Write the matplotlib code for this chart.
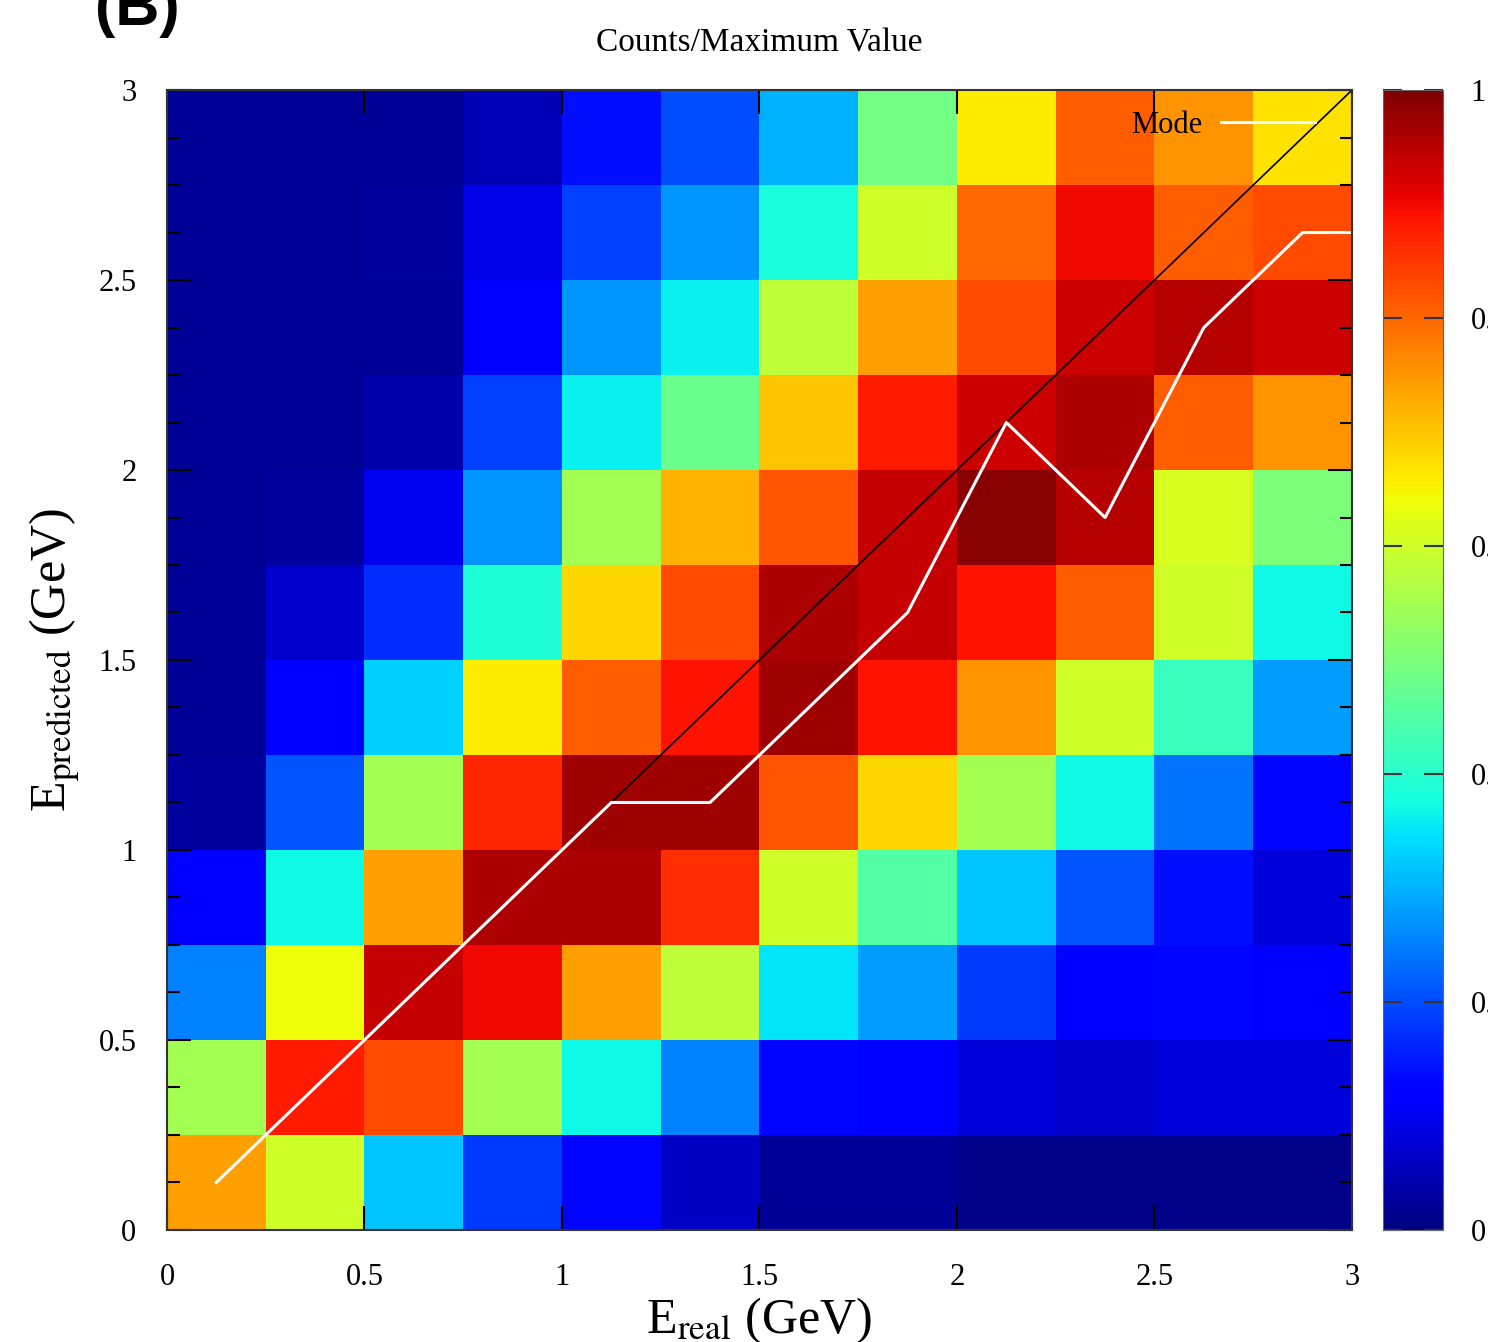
#Heatmap of predicted vs real energy, normalised counts, with the mode line
import matplotlib.pyplot as plt
import numpy as np
from matplotlib.ticker import MultipleLocator

#Bin edges in GeV (12 bins of 0.25 on each axis)
bin_edges = [0, 0.25, 0.5, 0.75, 1.0, 1.25, 1.5, 1.75, 2.0, 2.25, 2.5, 2.75, 3.0]

#Counts/Maximum Value, one list per E_predicted bin (bottom to top), columns are E_real bins
row_000_025 = [0.74, 0.60, 0.32, 0.18, 0.13, 0.06, 0.02, 0.02, 0.01, 0.01, 0.01, 0.01]
row_025_050 = [0.55, 0.88, 0.83, 0.55, 0.37, 0.25, 0.13, 0.12, 0.08, 0.07, 0.08, 0.08]
row_050_075 = [0.25, 0.64, 0.94, 0.90, 0.74, 0.58, 0.35, 0.28, 0.18, 0.11, 0.13, 0.12]
row_075_100 = [0.12, 0.37, 0.74, 0.96, 0.96, 0.86, 0.60, 0.45, 0.32, 0.21, 0.14, 0.08]
row_100_125 = [0.03, 0.21, 0.55, 0.87, 0.97, 0.97, 0.82, 0.68, 0.55, 0.37, 0.24, 0.13]
row_125_150 = [0.02, 0.11, 0.33, 0.66, 0.81, 0.89, 0.97, 0.89, 0.75, 0.60, 0.42, 0.28]
row_150_175 = [0.02, 0.07, 0.17, 0.39, 0.68, 0.83, 0.96, 0.94, 0.89, 0.81, 0.60, 0.37]
row_175_200 = [0.02, 0.03, 0.10, 0.27, 0.55, 0.72, 0.82, 0.94, 0.99, 0.95, 0.61, 0.50]
row_200_225 = [0.02, 0.02, 0.04, 0.19, 0.36, 0.48, 0.70, 0.88, 0.93, 0.96, 0.81, 0.75]
row_225_250 = [0.02, 0.02, 0.02, 0.12, 0.27, 0.36, 0.58, 0.74, 0.83, 0.93, 0.95, 0.93]
row_250_275 = [0.02, 0.02, 0.03, 0.09, 0.19, 0.27, 0.38, 0.60, 0.80, 0.90, 0.81, 0.83]
row_275_300 = [0.02, 0.02, 0.02, 0.05, 0.14, 0.20, 0.30, 0.49, 0.66, 0.81, 0.75, 0.67]

#Mode of E_predicted for each E_real bin centre
mode_x = [0.125, 0.375, 0.625, 0.875, 1.125, 1.375, 1.625, 1.875, 2.125, 2.375, 2.625, 2.875, 3.0]
mode_y = [0.125, 0.375, 0.625, 0.875, 1.125, 1.125, 1.375, 1.625, 2.125, 1.875, 2.375, 2.625, 2.625]

#Colour bar ticks
cbar_ticks = [0, 0.2, 0.4, 0.6, 0.8, 1.0]

counts = np.array([row_000_025, row_025_050, row_050_075, row_075_100,
                   row_100_125, row_125_150, row_150_175, row_175_200,
                   row_200_225, row_225_250, row_250_275, row_275_300])

plt.rcParams['font.family'] = ['Liberation Serif', 'DejaVu Serif']
plt.rcParams['mathtext.fontset'] = 'stix'

fig = plt.figure(figsize=(14.88, 13.42), dpi=100)
ax = fig.add_axes([0.1122, 0.0835, 0.7964, 0.8494])
cax = fig.add_axes([0.9294, 0.0835, 0.0403, 0.8494])

mesh = ax.pcolormesh(bin_edges, bin_edges, counts, cmap='jet', vmin=0, vmax=1)

#Diagonal E_predicted = E_real (from the first bin centre) and the mode line
ax.plot([mode_x[0], bin_edges[-1]], [mode_x[0], bin_edges[-1]], color='black', lw=1.2)
ax.plot(mode_x, mode_y, color='white', lw=2.2, label='Mode')

ax.set_xlim(0, 3)
ax.set_ylim(0, 3)
ax.xaxis.set_major_locator(MultipleLocator(0.5))
ax.yaxis.set_major_locator(MultipleLocator(0.5))
ax.yaxis.set_minor_locator(MultipleLocator(0.125))
ax.xaxis.set_major_formatter(plt.FuncFormatter(lambda v, p: f'{v:g}'))
ax.yaxis.set_major_formatter(plt.FuncFormatter(lambda v, p: f'{v:g}'))
ax.tick_params(which='both', direction='in', top=True, right=True, labelsize=22, width=1.5)
ax.tick_params(which='major', length=17, pad=24)
ax.tick_params(which='minor', length=9)
ax.tick_params(axis='y', pad=22)
for s in ax.spines.values():
    s.set_linewidth(1.5)
    s.set_color('#333333')

ax.set_title('Counts/Maximum Value', fontsize=24, pad=28)
ax.set_xlabel(r'E$_{\mathrm{real}}$ (GeV)', fontsize=36, labelpad=2)
ax.set_ylabel(r'E$_{\mathrm{predicted}}$ (GeV)', fontsize=36, labelpad=12)

ax.legend(loc='center right', bbox_to_anchor=(0.969, 0.969), frameon=False,
          markerfirst=False, fontsize=22, handlelength=3.1, borderpad=0,
          borderaxespad=0, handletextpad=0.6)

cb = fig.colorbar(mesh, cax=cax, ticks=cbar_ticks)
cb.ax.set_yticklabels([f'{t:g}' for t in cbar_ticks])
cb.ax.tick_params(direction='in', left=True, right=True, length=14, width=1.5,
                  labelsize=22, pad=20, color='#333333')
cb.outline.set_edgecolor('#666666')

#Panel letter, partly cut off at the top like the original
fig.text(0.064, 0.981, '(B)', fontsize=44, fontweight='bold', family='Liberation Sans')

plt.savefig('out.png', dpi=100)
